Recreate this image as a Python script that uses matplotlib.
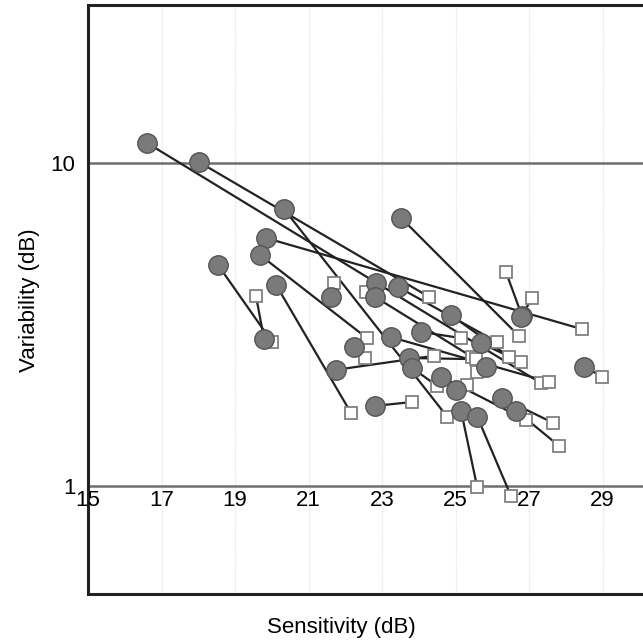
import numpy as np
import matplotlib
matplotlib.use("Agg")
import matplotlib.pyplot as plt

plt.rcParams['font.family'] = ['Liberation Sans', 'DejaVu Sans']

# circle = first measurement, square = second measurement (x: sensitivity, y: variability)
circle_x = [16.61, 18.02, 20.33, 23.52, 19.84, 19.68, 18.54, 20.12, 21.60, 22.83,
            22.81, 23.44, 24.88, 26.81, 26.78, 19.79, 23.24, 24.06, 22.24, 25.69,
            21.75, 23.73, 23.82, 24.61, 25.01, 25.83, 28.50, 22.81, 26.27, 26.65,
            25.15, 25.59]
circle_y = [11.53, 10.07, 7.21, 6.76, 5.86, 5.19, 4.83, 4.19, 3.85, 4.25,
            3.85, 4.13, 3.38, 3.36, 3.33, 2.85, 2.89, 3.00, 2.69, 2.77,
            2.29, 2.49, 2.32, 2.18, 1.98, 2.34, 2.34, 1.77, 1.87, 1.71,
            1.71, 1.64]
square_x = [27.33, 24.28, 24.77, 26.73, 28.44, 22.59, 20.01, 22.16, 21.69, 22.56,
            25.45, 26.13, 26.46, 26.37, 27.08, 19.57, 27.54, 25.15, 22.54, 26.78,
            24.41, 25.56, 24.50, 26.92, 25.31, 25.59, 28.99, 23.82, 27.65, 27.82,
            25.59, 26.51]
square_y = [2.08, 3.85, 1.64, 2.91, 3.06, 2.87, 2.79, 1.68, 4.25, 3.99,
            2.51, 2.79, 2.51, 4.60, 3.82, 3.88, 2.10, 2.87, 2.49, 2.42,
            2.53, 2.47, 2.04, 1.60, 2.05, 2.25, 2.18, 1.82, 1.57, 1.33,
            0.99, 0.93]
x_ticks = [15, 17, 19, 21, 23, 25, 27, 29]

fig = plt.figure(figsize=(6.43, 6.43), dpi=100)
ax = fig.add_axes([88 / 643, 49 / 643, 555 / 643, 589 / 643])
ax.set_yscale('log')
ax.set_xlim(15, 30.1)
ax.set_ylim(0.463, 30.85)

# grid
for xv in x_ticks[1:]:
    ax.axvline(xv, color='#e2e2e2', lw=0.9, ls=(0, (1, 1)), zorder=0)
for yv in [1, 10]:
    ax.axhline(yv, color='#6e6e6e', lw=1.8, zorder=1)

for cx, cy, sx, sy in zip(circle_x, circle_y, square_x, square_y):
    ax.plot([cx, sx], [cy, sy], color='#222222', lw=1.6, zorder=2)
ax.plot(square_x, square_y, ls='none', marker='s', ms=8.8, mfc='white',
        mec='#808080', mew=1.3, zorder=3)
ax.plot(circle_x, circle_y, ls='none', marker='o', ms=14, mfc='#7a7a7a',
        mec='#555555', mew=1.0, zorder=4)

for s in ['left', 'top', 'bottom']:
    ax.spines[s].set_color('#222222')
    ax.spines[s].set_linewidth(2.2)
ax.spines['right'].set_visible(False)

ax.set_xticks([])
ax.set_yticks([1, 10])
ax.set_yticklabels(['1', '10'], fontsize=16)
ax.yaxis.set_minor_locator(matplotlib.ticker.NullLocator())
ax.tick_params(axis='y', length=0, pad=9)

# x tick labels sit just under the y=1 line
for xv in x_ticks:
    ax.annotate(str(xv), (xv, 1), xytext=(0, -3), textcoords='offset points',
                ha='center', va='top', fontsize=16)

fig.text(341 / 643, 1 - 627 / 643, 'Sensitivity (dB)', ha='center', va='center', fontsize=16)
fig.text(30 / 643, 1 - 300 / 643, 'Variability (dB)', ha='center', va='center',
         rotation=90, fontsize=16)

fig.savefig('out.png', dpi=100)
